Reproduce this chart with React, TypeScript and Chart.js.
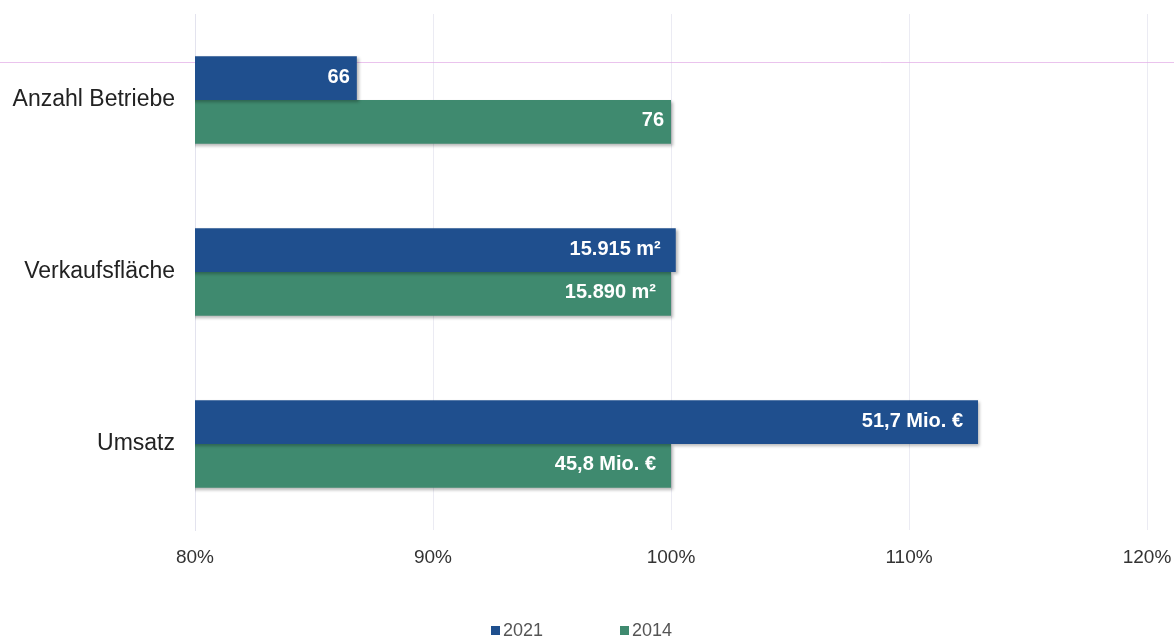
import React, { useEffect, useRef } from "react";
import { Chart, registerables } from "chart.js";
Chart.register(...registerables);

const categories = ["Anzahl Betriebe", "Verkaufsfläche", "Umsatz"];
const seriesNames = ["2021", "2014"];
const values2021 = [86.8, 100.2, 112.9];
const values2014 = [100, 100, 100];
const labels2021 = ["66", "15.915 m²", "51,7 Mio. €"];
const labels2014 = ["76", "15.890 m²", "45,8 Mio. €"];
const xMin = 80;
const xMax = 120;
const xStep = 10;

const COLOR_2021 = "#1f4f8e";
const COLOR_2014 = "#3f8a6f";
const FONT = "'Liberation Sans', Arial, sans-serif";

const valueLabelPlugin = {
  id: "valueLabels",
  afterDatasetsDraw(chart: any) {
    const ctx = chart.ctx;
    const all = [labels2021, labels2014];
    ctx.save();
    ctx.font = "bold 20px " + FONT;
    ctx.fillStyle = "#ffffff";
    ctx.textAlign = "right";
    ctx.textBaseline = "middle";
    chart.data.datasets.forEach((ds: any, di: number) => {
      const meta = chart.getDatasetMeta(di);
      meta.data.forEach((bar: any, i: number) => {
        const txt = all[di][i];
        const off = txt.length > 3 ? 15 : 7;
        ctx.fillText(txt, bar.x - off, bar.y - 1);
      });
    });
    ctx.restore();
  },
};

const legendPlugin = {
  id: "customLegend",
  afterDraw(chart: any) {
    const ctx = chart.ctx;
    const xs = [491, 620];
    const y = 631;
    ctx.save();
    ctx.font = "18px " + FONT;
    ctx.textBaseline = "middle";
    ctx.textAlign = "left";
    chart.data.datasets.forEach((ds: any, i: number) => {
      ctx.fillStyle = ds.backgroundColor;
      ctx.fillRect(xs[i], y - 5, 9, 9);
      ctx.fillStyle = "#555555";
      ctx.fillText(ds.label, xs[i] + 12, y);
    });
    ctx.restore();
  },
};

const shadowPlugin = {
  id: "barShadow",
  beforeDatasetsDraw(chart: any) {
    const ctx = chart.ctx;
    ctx.save();
    ctx.strokeStyle = "rgba(225,170,230,0.7)";
    ctx.lineWidth = 1;
    ctx.beginPath();
    ctx.moveTo(0, 62.5);
    ctx.lineTo(chart.width, 62.5);
    ctx.stroke();
    ctx.restore();
    ctx.save();
    ctx.shadowColor = "rgba(0,0,0,0.28)";
    ctx.shadowBlur = 3;
    ctx.shadowOffsetX = 2;
    ctx.shadowOffsetY = 2;
  },
  afterDatasetsDraw(chart: any) {
    chart.ctx.restore();
  },
};

export default function App() {
  const ref = useRef<HTMLCanvasElement | null>(null);
  useEffect(() => {
    document.body.style.margin = "0";
    const chart = new Chart(ref.current as HTMLCanvasElement, {
      type: "bar",
      data: {
        labels: categories,
        datasets: [
          {
            label: seriesNames[0],
            data: values2021,
            backgroundColor: COLOR_2021,
            categoryPercentage: 0.51,
            barPercentage: 1,
          },
          {
            label: seriesNames[1],
            data: values2014,
            backgroundColor: COLOR_2014,
            categoryPercentage: 0.51,
            barPercentage: 1,
          },
        ],
      },
      options: {
        indexAxis: "y",
        animation: false,
        responsive: false,
        maintainAspectRatio: false,
        layout: { padding: { top: 14, right: 27, left: 0, bottom: 0 } },
        scales: {
          x: {
            min: xMin,
            max: xMax,
            ticks: {
              stepSize: xStep,
              callback: (v: any) => v + "%",
              color: "#333333",
              font: { family: FONT, size: 19 },
              padding: 16,
            },
            grid: { color: "#ebebf3", drawTicks: false },
            border: { display: false },
            afterFit(scale: any) {
              scale.height = 108;
              scale.paddingLeft = 0;
              scale.paddingRight = 0;
            },
          },
          y: {
            ticks: {
              color: "#222222",
              font: { family: FONT, size: 23 },
              padding: 20,
            },
            grid: { display: false, drawTicks: false },
            border: { display: true, color: "#e3e3ee" },
            afterFit(scale: any) {
              scale.width = 195;
              scale.paddingTop = 0;
              scale.paddingBottom = 0;
            },
          },
        },
        plugins: {
          legend: { display: false },
          tooltip: { enabled: false },
        },
      },
      plugins: [shadowPlugin, valueLabelPlugin, legendPlugin],
    } as any);
    return () => chart.destroy();
  }, []);
  return (
    <div style={{ width: 1174, height: 638 }}>
      <canvas ref={ref} width={1174} height={638} style={{ display: "block" }} />
    </div>
  );
}
